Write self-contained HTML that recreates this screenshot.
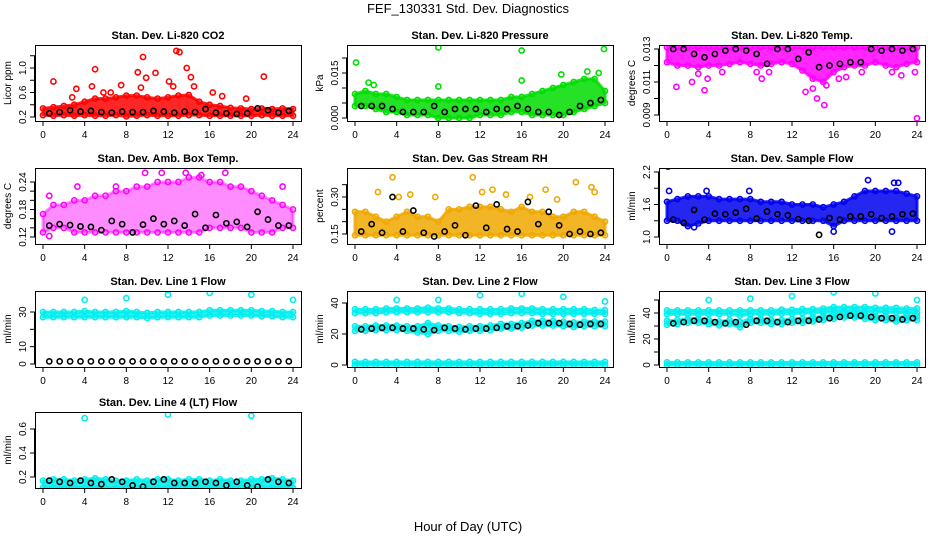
<!DOCTYPE html>
<html><head><meta charset="utf-8">
<style>
html,body{margin:0;padding:0;background:#fff;}
svg{display:block;font-family:"Liberation Sans",sans-serif;}
</style></head>
<body>
<svg id="c" width="936" height="540" viewBox="0 0 936 540" xmlns="http://www.w3.org/2000/svg">
<text x="468" y="13" font-size="13" text-anchor="middle">FEF_130331  Std. Dev. Diagnostics</text>
<text x="468" y="531" font-size="13" text-anchor="middle">Hour of Day (UTC)</text>
</svg>
<script>
// ---- data (hourly band limits at h=0..24, black points at h=i+0.6, outliers [h,v]) ----
const hoursX = [0,4,8,12,16,20,24];

const co2Lo = [0.23,0.22,0.23,0.22,0.23,0.22,0.22,0.23,0.21,0.22,0.23,0.22,0.22,0.22,0.23,0.23,0.22,0.22,0.22,0.22,0.22,0.23,0.22,0.22,0.22];
const co2Hi = [0.34,0.36,0.38,0.40,0.45,0.50,0.50,0.52,0.55,0.55,0.52,0.50,0.52,0.55,0.56,0.45,0.40,0.38,0.35,0.34,0.33,0.34,0.33,0.34,0.33];
const co2Out = [[1,0.78],[2.8,0.52],[3.2,0.66],[4.7,0.70],[5,0.98],[5.8,0.60],[7.5,0.72],[9.1,0.93],[9.4,0.68],[9.6,1.18],[9.9,0.84],[10.8,0.92],[12.1,0.78],[12.5,0.70],[12.8,1.28],[13.1,1.26],[13.8,1.00],[14.2,0.85],[14.5,0.70],[16.3,0.60],[17.2,0.54],[19.5,0.50],[21.2,0.86],[6.5,0.60]];
const co2Black = [0.26,0.28,0.31,0.29,0.30,0.28,0.27,0.29,0.28,0.28,0.30,0.29,0.27,0.29,0.28,0.33,0.27,0.26,0.25,0.26,0.34,0.31,0.27,0.30];

const presLo = [0.004,0.004,0.003,0.002,0.002,0.001,0.001,0.001,0.000,0.000,0.000,0.000,0.001,0.001,0.001,0.002,0.002,0.001,0.001,0.001,0.001,0.002,0.003,0.004,0.005];
const presHi = [0.008,0.009,0.008,0.008,0.007,0.006,0.006,0.006,0.006,0.006,0.006,0.006,0.006,0.006,0.006,0.007,0.007,0.008,0.009,0.010,0.011,0.012,0.013,0.013,0.009];
const presOut = [[0.1,0.0185],[1.3,0.0118],[1.8,0.011],[8,0.0235],[8,0.0105],[16,0.0225],[16,0.0125],[19.8,0.0145],[22.3,0.0155],[23.4,0.0150],[23.9,0.0230]];
const presBlack = [0.004,0.004,0.004,0.003,0.002,0.002,0.002,0.004,0.002,0.003,0.003,0.003,0.002,0.003,0.003,0.004,0.003,0.002,0.002,0.001,0.002,0.004,0.005,0.006];

const tempLo = [0.0122,0.0120,0.0120,0.0119,0.0120,0.0120,0.0121,0.0122,0.0121,0.0120,0.0121,0.0122,0.0121,0.0117,0.0112,0.0110,0.0116,0.0119,0.0120,0.0120,0.0122,0.0120,0.0119,0.0121,0.0122];
const tempHi = [0.0131,0.0131,0.0131,0.0131,0.0131,0.0131,0.0131,0.0131,0.0131,0.0131,0.0131,0.0131,0.0131,0.0131,0.0131,0.0131,0.0131,0.0131,0.0131,0.0131,0.0131,0.0131,0.0131,0.0131,0.0131];
const tempOut = [[0.9,0.0107],[2.4,0.0110],[3,0.0115],[3.6,0.0105],[3.9,0.0112],[5.3,0.0116],[8.6,0.0116],[9.1,0.0112],[9.8,0.0116],[13.3,0.0104],[14.4,0.0100],[15.1,0.0096],[14,0.0106],[15.3,0.0108],[16.5,0.0112],[18.7,0.0116],[21.6,0.0116],[22.5,0.0114],[23.8,0.0116],[24,0.0088],[17.2,0.0113]];
const tempBlack = [0.0130,0.0130,0.0127,0.0125,0.0127,0.0129,0.0130,0.0129,0.0127,0.0121,0.0130,0.0130,0.0124,0.0128,0.0119,0.0120,0.0121,0.0122,0.0122,0.0130,0.0129,0.0130,0.0129,0.0130];

const ambLo = [0.13,0.14,0.14,0.13,0.13,0.13,0.13,0.13,0.13,0.13,0.13,0.13,0.13,0.13,0.13,0.13,0.14,0.14,0.14,0.14,0.13,0.13,0.13,0.14,0.14];
const ambHi = [0.17,0.19,0.19,0.20,0.20,0.21,0.21,0.22,0.22,0.23,0.23,0.24,0.24,0.24,0.25,0.25,0.24,0.24,0.23,0.23,0.22,0.21,0.20,0.19,0.18];
const ambOut = [[0.6,0.21],[0.6,0.122],[3.3,0.23],[9.8,0.26],[11.4,0.26],[13.7,0.26],[15.2,0.255],[17.5,0.26],[23,0.23],[7,0.23]];
const ambBlack = [0.145,0.148,0.146,0.143,0.142,0.135,0.155,0.148,0.13,0.147,0.16,0.148,0.155,0.145,0.17,0.14,0.168,0.15,0.153,0.142,0.175,0.158,0.145,0.145];

const rhLo = [0.145,0.145,0.145,0.145,0.145,0.145,0.145,0.145,0.145,0.145,0.145,0.145,0.145,0.145,0.145,0.145,0.145,0.145,0.145,0.145,0.145,0.145,0.145,0.145,0.145];
const rhHi = [0.24,0.24,0.22,0.20,0.22,0.24,0.22,0.22,0.20,0.25,0.25,0.26,0.26,0.26,0.25,0.24,0.26,0.24,0.24,0.22,0.22,0.24,0.24,0.22,0.20];
const rhOut = [[2.2,0.32],[3.6,0.38],[4.2,0.30],[5.3,0.31],[7.7,0.30],[11.3,0.38],[12.2,0.32],[13.2,0.33],[14.5,0.31],[16.8,0.30],[18.3,0.33],[19.4,0.29],[21.2,0.36],[22.7,0.34],[23,0.32]];
const rhBlack = [0.16,0.19,0.155,0.30,0.16,0.245,0.155,0.14,0.16,0.185,0.145,0.265,0.175,0.27,0.17,0.16,0.28,0.19,0.24,0.185,0.15,0.16,0.15,0.155];

const flowLo = [1.3,1.3,1.2,1.25,1.3,1.3,1.3,1.3,1.3,1.3,1.3,1.3,1.3,1.3,1.3,1.3,1.2,1.3,1.3,1.3,1.3,1.3,1.3,1.3,1.3];
const flowHi = [1.65,1.7,1.75,1.75,1.75,1.7,1.7,1.7,1.7,1.65,1.65,1.65,1.6,1.6,1.6,1.55,1.6,1.65,1.75,1.85,1.85,1.85,1.85,1.8,1.75];
const flowOut = [[0.1,2.3],[0.2,1.85],[3.8,1.85],[7.9,1.85],[19.3,2.05],[21.8,2.0],[22.2,2.0],[16,1.1],[21.6,1.1],[2.6,1.18]];
const flowBlack = [1.32,1.26,1.5,1.32,1.43,1.42,1.45,1.52,1.34,1.47,1.42,1.4,1.33,1.3,1.04,1.35,1.32,1.38,1.38,1.42,1.35,1.38,1.42,1.43];

const l1Lo = [27,27,27,27,27,27,27,27,27,27,26.5,27,27,27,27,27,28,28,28,28,28,27.5,27.5,27,27];
const l1Hi = [30,30,30,30,30.5,30,30,30,30.5,30,29.5,30,30,30,30,30,31,31,31,31,31,30.5,30.5,30,30];
const l1Out = [[4,37],[8,38],[12,40],[16,41],[20,40],[24,37]];
const l1Black = [1.5,1.5,1.5,1.5,1.5,1.5,1.5,1.5,1.5,1.5,1.5,1.5,1.5,1.5,1.5,1.5,1.5,1.5,1.5,1.5,1.5,1.5,1.5,1.5];

const l2Lo = [33.5,33.5,33.5,34,34,34,34,34,34,34,33.5,33.5,33,33,33,33.5,33.5,33.5,33,33,33,33,33,33,33];
const l2Hi = [36,36,36,36.5,36.5,36.5,36.5,37,36.5,36.5,36,36,36,36,36,36.5,36.5,36.5,36,36,36,36,36,35.5,35.5];
const l2MidLo = [22,22,22.5,22.5,22.5,22,21,20,22,22,21.5,22,22,22.5,23.5,23.5,24,25.5,25.5,25.5,25,24.5,25,25,25];
const l2MidHi = [25,25,25.5,25.5,25.5,25,25,27,25.5,25,24.5,25,25,25.5,26.5,26.5,27,28.5,28.5,28.5,28,27.5,28,28,28];
const l2Out = [[4,42],[8,42],[12,45],[16,46],[20,44],[24,41]];
const l2Black = [23,23.5,24,24,23.5,23.5,23,22.5,24,23.5,23,23.5,23.5,24,25,25,25.5,27,27,27,26.5,26,26.5,26.5];

const l3Lo = [39,39,39,39,39,39,39,38,39,39,39,39.5,39.5,40,40,40.5,41,41,41,41,41,40.5,40.5,40,40];
const l3Hi = [42,42,42,42,42,42,42,42,42,42,42,42.5,42.5,43,43,43.5,44.5,44.5,44.5,44.5,44,44,44,43.5,43.5];
const l3MidLo = [31,31.5,32.5,32.5,31.5,30.5,31.5,29,32.5,32.5,31.5,31.5,32.5,32.5,33.5,34.5,35.5,36.5,36.5,35.5,34.5,34.5,33.5,34.5,34.5];
const l3MidHi = [34,34.5,35.5,35.5,34.5,33.5,34.5,33,35.5,35.5,34.5,34.5,35.5,35.5,36.5,37.5,38.5,39.5,39.5,38.5,37.5,37.5,36.5,37.5,37.5];
const l3Out = [[4,50],[8,51],[12,53],[16,56],[20,55],[24,50]];
const l3Black = [32,33,34,34,33,32,33,31,34,34,33,33,34,34,35,36,37,38,38,37,36,36,35,36];

const l4Lo = [0.11,0.11,0.11,0.11,0.11,0.11,0.11,0.11,0.11,0.11,0.11,0.11,0.11,0.11,0.11,0.11,0.11,0.11,0.11,0.11,0.11,0.11,0.11,0.11,0.11];
const l4Hi = [0.17,0.18,0.18,0.17,0.18,0.19,0.18,0.17,0.17,0.18,0.17,0.18,0.18,0.17,0.18,0.18,0.17,0.18,0.17,0.17,0.18,0.18,0.19,0.18,0.17];
const l4Out = [[4,0.69],[12,0.72],[20,0.71]];
const l4Black = [0.17,0.16,0.15,0.17,0.15,0.14,0.18,0.16,0.13,0.12,0.16,0.18,0.15,0.15,0.15,0.16,0.15,0.13,0.16,0.13,0.12,0.18,0.16,0.15];

const lowBandLo = [0,0,0,0,0,0,0,0,0,0,0,0,0,0,0,0,0,0,0,0,0,0,0,0,0];
const lowBandHi = [2,2,2,2,2,2,2,2,2,2,2,2,2,2,2,2,2,2,2,2,2,2,2,2,2];

// ---- layout ----
const NS = 'http://www.w3.org/2000/svg';
const svg = document.getElementById('c');
function mk(tag, attrs, parent){ const e=document.createElementNS(NS,tag); for(const k in attrs) e.setAttribute(k,attrs[k]); (parent||svg).appendChild(e); return e; }

const panels = [
 {name:'co2',title:'Stan. Dev. Li-820 CO2',ylab:'Licor ppm',col:0,row:0,color:'#ff0000',ref:[0.2,117,1.0,68],ticks:[0.2,0.4,0.6,0.8,1.0,1.2],labels:[0.2,0.6,1.0],dec:1,bands:[[co2Lo,co2Hi]],out:co2Out,black:co2Black},
 {name:'pressure',title:'Stan. Dev. Li-820 Pressure',ylab:'kPa',col:1,row:0,color:'#00dd00',ref:[0,118,0.015,73],ticks:[0,0.005,0.010,0.015,0.020],labels:[0,0.015],dec:3,bands:[[presLo,presHi]],out:presOut,black:presBlack},
 {name:'li820-temp',title:'Stan. Dev. Li-820 Temp.',ylab:'degrees C',col:2,row:0,color:'#ff00ff',ref:[0.009,115,0.013,49],ticks:[0.009,0.010,0.011,0.012,0.013],labels:[0.009,0.011,0.013],dec:3,bands:[[tempLo,tempHi]],out:tempOut,black:tempBlack},
 {name:'amb-box-temp',title:'Stan. Dev. Amb. Box Temp.',ylab:'degrees C',col:0,row:1,color:'#ff00ff',ref:[0.12,237,0.24,182],ticks:[0.12,0.14,0.16,0.18,0.20,0.22,0.24],labels:[0.12,0.18,0.24],dec:2,bands:[[ambLo,ambHi]],out:ambOut,black:ambBlack,alpha:0.45},
 {name:'gas-stream-rh',title:'Stan. Dev. Gas Stream RH',ylab:'percent',col:1,row:1,color:'#f0a800',ref:[0.15,234,0.30,197],ticks:[0.15,0.20,0.25,0.30,0.35],labels:[0.15,0.30],dec:2,bands:[[rhLo,rhHi]],out:rhOut,black:rhBlack},
 {name:'sample-flow',title:'Stan. Dev. Sample Flow',ylab:'ml/min',col:2,row:1,color:'#0000ee',ref:[1.0,237,2.2,172],ticks:[1.0,1.3,1.6,1.9,2.2],labels:[1.0,1.6,2.2],dec:1,bands:[[flowLo,flowHi]],out:flowOut,black:flowBlack},
 {name:'line1-flow',title:'Stan. Dev. Line 1 Flow',ylab:'ml/min',col:0,row:2,color:'#00eeee',ref:[0,364,30,312],ticks:[0,10,20,30],labels:[0,10,30],dec:0,bands:[[l1Lo,l1Hi]],out:l1Out,black:l1Black},
 {name:'line2-flow',title:'Stan. Dev. Line 2 Flow',ylab:'ml/min',col:1,row:2,color:'#00eeee',ref:[0,365,40,303],ticks:[0,20,40],labels:[0,20,40],dec:0,bands:[[l2Lo,l2Hi],[l2MidLo,l2MidHi],[lowBandLo,lowBandHi]],out:l2Out,black:l2Black},
 {name:'line3-flow',title:'Stan. Dev. Line 3 Flow',ylab:'ml/min',col:2,row:2,color:'#00eeee',ref:[0,365,40,313],ticks:[0,10,20,30,40,50],labels:[0,20,40],dec:0,bands:[[l3Lo,l3Hi],[l3MidLo,l3MidHi],[lowBandLo,lowBandHi]],out:l3Out,black:l3Black},
 {name:'line4-flow',title:'Stan. Dev. Line 4 (LT) Flow',ylab:'ml/min',col:0,row:3,color:'#00eeee',ref:[0.2,477,0.6,429],ticks:[0.2,0.4,0.6],labels:[0.2,0.4,0.6],dec:1,bands:[[l4Lo,l4Hi]],out:l4Out,black:l4Black},
];
const rowTop = [45,168,291,412];

panels.forEach(p=>{
  const L = 35 + p.col*312, W = 266, T = rowTop[p.row], H = 76;
  const xs = h => L + 8 + h*250/24;
  const [v0,p0,v1,p1] = p.ref;
  const ys = v => p0 + (v - v0)*(p1 - p0)/(v1 - v0);
  const g = mk('g',{});
  
  
  const cid = 'clip-' + p.name;
  const cp = mk('clipPath',{id:cid},g); mk('rect',{x:L,y:T,width:W,height:H},cp);
  const plot = mk('g',{'clip-path':'url(#'+cid+')'},g);
  
  
  // bands
  p.bands.forEach(([lo,hi],bi)=>{
    let pts=[];
    hi.forEach((v,i)=>pts.push(xs(i)+','+ys(v)));
    for(let i=lo.length-1;i>=0;i--) pts.push(xs(i)+','+ys(lo[i]));
    const poly = mk('polygon',{points:pts.join(' '),fill:p.color,'fill-opacity':p.alpha||0.85,stroke:p.color,'stroke-width':3,'stroke-linejoin':'round','stroke-opacity':p.alpha||0.85},plot);
    
    
    [lo,hi].forEach(arr=>arr.forEach((v,i)=>{
      const c = mk('circle',{cx:xs(i),cy:ys(v),r:2.6,fill:'none',stroke:p.color,'stroke-width':1.5},plot);
      
      
    }));
  });
  p.out.forEach(([h,v])=>{
    const c = mk('circle',{cx:xs(h),cy:ys(v),r:2.6,fill:'none',stroke:p.color,'stroke-width':1.6},plot);
    
    
  });
  p.black.forEach((v,i)=>{
    const c = mk('circle',{cx:xs(i+0.6),cy:ys(v),r:2.6,fill:'none',stroke:'#000','stroke-width':1.6},plot);
    
    
  });
  // frame
  const fr = mk('rect',{x:L+0.5,y:T+0.5,width:W,height:H,fill:'none',stroke:'#000','stroke-width':1},g);
  
  
  // title
  const tt = mk('text',{x:L+W/2,y:T-6,'font-size':11,'font-weight':'bold','text-anchor':'middle'},g);
  tt.textContent = p.title;
  
  
  // x axis
  mk('line',{x1:xs(0),x2:xs(24),y1:T+H+0.5,y2:T+H+0.5,stroke:'#000'},g);
  hoursX.forEach(h=>{
    mk('line',{x1:xs(h),x2:xs(h),y1:T+H,y2:T+H+5,stroke:'#000'},g);
    const t = mk('text',{x:xs(h),y:T+H+17,'font-size':10,'text-anchor':'middle'},g);
    t.textContent = h;
    
    
  });
  // y axis
  const yTop = ys(p.ticks[p.ticks.length-1]), yBot = ys(p.ticks[0]);
  mk('line',{x1:L-0.5,x2:L-0.5,y1:yTop,y2:yBot,stroke:'#000'},g);
  p.ticks.forEach(v=>{
    mk('line',{x1:L-5,x2:L,y1:ys(v),y2:ys(v),stroke:'#000'},g);
  });
  p.labels.forEach(v=>{
    const t = mk('text',{x:L-9,y:ys(v),'font-size':10,'text-anchor':'middle',transform:'rotate(-90 '+(L-9)+' '+ys(v)+')'},g);
    t.textContent = v.toFixed(p.dec);
    
    
  });
  const yl = mk('text',{x:L-24,y:T+H/2,'font-size':10,'text-anchor':'middle',transform:'rotate(-90 '+(L-24)+' '+(T+H/2)+')'},g);
  yl.textContent = p.ylab;
  
  
});
</script>
</body></html>
